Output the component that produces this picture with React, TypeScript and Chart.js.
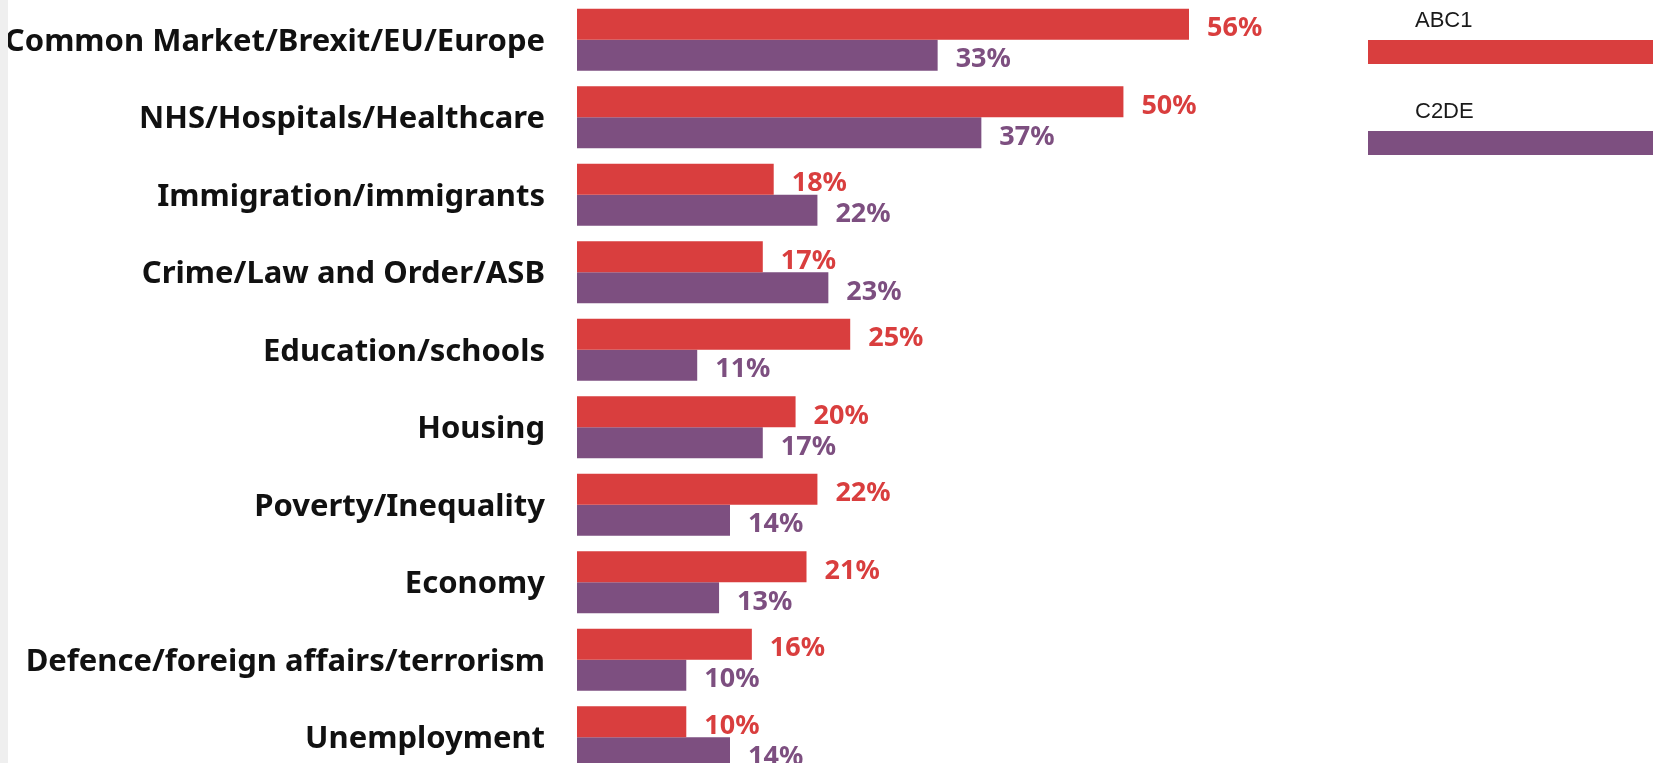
import React, { useEffect, useRef } from "react";
import { Chart, registerables } from "chart.js";

Chart.register(...registerables);

const categories = [
  "Common Market/Brexit/EU/Europe",
  "NHS/Hospitals/Healthcare",
  "Immigration/immigrants",
  "Crime/Law and Order/ASB",
  "Education/schools",
  "Housing",
  "Poverty/Inequality",
  "Economy",
  "Defence/foreign affairs/terrorism",
  "Unemployment",
];
const seriesNames = ["ABC1", "C2DE"];
const abc1 = [56, 50, 18, 17, 25, 20, 22, 21, 16, 10];
const c2de = [33, 37, 22, 23, 11, 17, 14, 13, 10, 14];

const RED = "#D93E3E";
const PURPLE = "#7D4F80";
const LABEL_FONT = '"Noto Sans", sans-serif';

const valueLabels = {
  id: "valueLabels",
  afterDatasetsDraw(chart: any) {
    const ctx = chart.ctx;
    ctx.save();
    ctx.font = `bold 27px ${LABEL_FONT}`;
    ctx.textAlign = "left";
    ctx.textBaseline = "middle";
    chart.data.datasets.forEach((ds: any, di: number) => {
      const meta = chart.getDatasetMeta(di);
      ctx.fillStyle = ds.backgroundColor;
      meta.data.forEach((bar: any, i: number) => {
        ctx.fillText(`${ds.data[i]}%`, bar.x + 18, bar.y + 4.5);
      });
    });
    ctx.restore();
  },
};

const sideLegend = {
  id: "sideLegend",
  afterDraw(chart: any) {
    const ctx = chart.ctx;
    const w = chart.width;
    ctx.save();
    ctx.font = `22px "Liberation Sans", Arial, sans-serif`;
    ctx.textAlign = "left";
    ctx.textBaseline = "middle";
    const items = [
      { textY: 21, barY: 40 },
      { textY: 112, barY: 131 },
    ];
    chart.data.datasets.forEach((ds: any, di: number) => {
      const it = items[di];
      ctx.fillStyle = "#1a1a1a";
      ctx.fillText(ds.label, 1407, it.textY);
      ctx.fillStyle = ds.backgroundColor;
      ctx.fillRect(1360, it.barY, w - 1360, 24);
    });
    ctx.restore();
  },
};

export default function App() {
  const ref = useRef<HTMLCanvasElement>(null);

  useEffect(() => {
    document.body.style.margin = "0";
    document.body.style.overflow = "hidden";
    const chart = new Chart(ref.current!, {
      type: "bar",
      data: {
        labels: categories,
        datasets: [
          {
            label: seriesNames[0],
            data: abc1,
            backgroundColor: RED,
            barPercentage: 1,
            categoryPercentage: 0.8,
          },
          {
            label: seriesNames[1],
            data: c2de,
            backgroundColor: PURPLE,
            barPercentage: 1,
            categoryPercentage: 0.8,
          },
        ],
      },
      options: {
        indexAxis: "y",
        responsive: false,
        animation: false,
        devicePixelRatio: 1,
        layout: { padding: { top: 1, right: 311, bottom: 0, left: 0 } },
        plugins: {
          legend: { display: false },
          tooltip: { enabled: false },
        },
        scales: {
          x: { display: false, min: 0, max: 70 },
          y: {
            grid: { display: false },
            border: { display: false },
            ticks: {
              padding: 24,
              labelOffset: 2,
              color: "#111111",
              font: { family: LABEL_FONT, size: 31, weight: "bold" },
            },
            afterFit: (s: any) => {
              s.width = 569;
              s.paddingTop = 0;
              s.paddingBottom = 0;
            },
          },
        },
      },
      plugins: [valueLabels, sideLegend],
    });
    return () => chart.destroy();
  }, []);

  return (
    <div
      style={{
        width: 1645,
        height: 763,
        overflow: "hidden",
        borderLeft: "8px solid #efefef",
        background: "#ffffff",
      }}
    >
      <canvas ref={ref} width={1645} height={776} style={{ display: "block" }} />
    </div>
  );
}
